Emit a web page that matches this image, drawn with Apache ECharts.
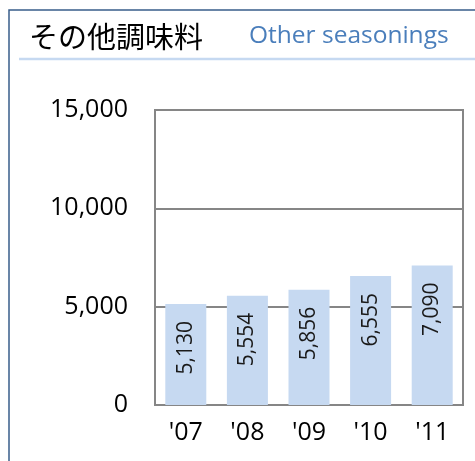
<!DOCTYPE html>
<html>
<head>
<meta charset="utf-8">
<script src="https://cdn.jsdelivr.net/npm/echarts@6/dist/echarts.min.js"></script>
<style>
  html, body { margin: 0; padding: 0; background: #fff; }
  #chart { width: 475px; height: 461px; }
</style>
</head>
<body>
<div id="chart"></div>
<script>
  // data
  var years = ["'07", "'08", "'09", "'10", "'11"]
  var values = [5130, 5554, 5856, 6555, 7090]
  var titleJa = 'その他調味料'
  var titleEn = 'Other seasonings'

  var font = '"Open Sans", Lato, sans-serif'
  var chart = echarts.init(document.getElementById('chart'))

  chart.setOption({
    animation: false,
    title: [
      {
        text: titleJa,
        left: 24,
        top: 17,
        textStyle: {fontFamily: '"Noto Sans CJK JP"', fontSize: 29, fontWeight: 'normal', color: '#000'}
      },
      {
        text: titleEn,
        left: 244,
        top: 19,
        textStyle: {fontFamily: font, fontSize: 24.5, fontWeight: 'normal', color: '#4a7ebb'}
      }
    ],
    graphic: [
      // outer frame (left + top)
      {type: 'polyline', shape: {points: [[9, 461], [9, 10], [475, 10]]}, style: {stroke: '#385d8a', lineWidth: 1.5, fill: null}},
      // title underline
      {type: 'line', shape: {x1: 19, y1: 59, x2: 475, y2: 59}, style: {stroke: '#c6d9f1', lineWidth: 2.5}}
    ],
    grid: {
      left: 155,
      right: 12,
      top: 110,
      bottom: 56,
      show: true,
      borderColor: '#868686',
      borderWidth: 2
    },
    xAxis: {
      type: 'category',
      data: years,
      axisLine: {lineStyle: {color: '#868686', width: 2}},
      axisTick: {inside: true, length: 9, lineStyle: {color: '#868686', width: 2}},
      axisLabel: {fontFamily: font, fontSize: 25, color: '#000', margin: 15}
    },
    yAxis: {
      type: 'value',
      min: 0,
      max: 15000,
      interval: 5000,
      axisLine: {show: false},
      axisTick: {show: false},
      splitLine: {lineStyle: {color: '#868686', width: 2}},
      axisLabel: {
        fontFamily: font, fontSize: 25, color: '#000', margin: 27,
        formatter: function (v) { return v.toLocaleString('en-US') }
      }
    },
    series: [
      {
        type: 'bar',
        data: values,
        barWidth: 41,
        itemStyle: {color: '#c6d9f1'},
        label: {
          show: true,
          position: 'insideTop',
          distance: 17,
          rotate: 90,
          align: 'right',
          verticalAlign: 'middle',
          fontFamily: font,
          fontSize: 21,
          color: '#1a1a1a',
          formatter: function (p) { return p.value.toLocaleString('en-US') }
        }
      }
    ]
  })
</script>
</body>
</html>
